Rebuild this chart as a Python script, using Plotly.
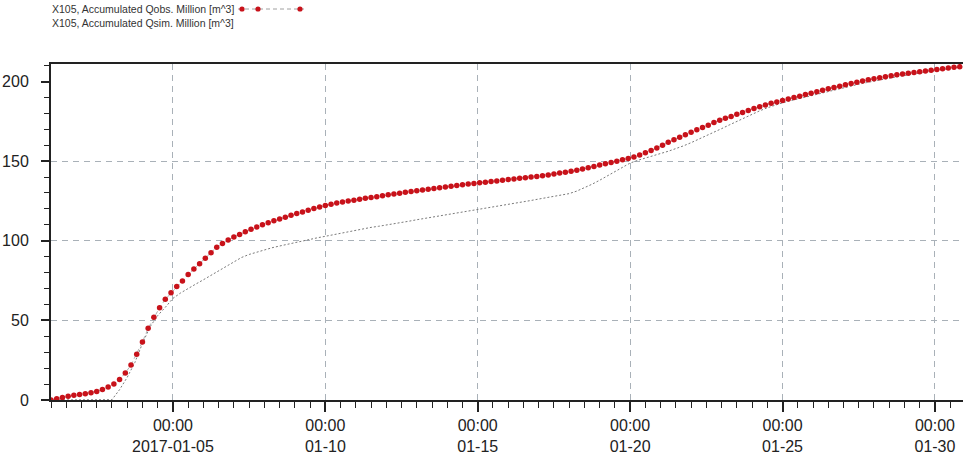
import pandas as pd
import plotly.graph_objects as go

# Observed accumulated discharge (million m^3), 4.5-hour steps from 2017-01-01 00:00
obs_start = "2017-01-01 00:00"
obs_step_hours = 4.5
obs_values = [
    0.0, 0.8, 1.6, 2.4, 3.0, 3.5, 4.0, 4.6, 5.4, 6.6,
    8.2, 10.0, 12.8, 17.0, 22.0, 28.8, 36.5, 45.0, 52.0, 58.0,
    63.2, 67.3, 71.2, 74.8, 78.8, 82.2, 85.6, 89.0, 92.5, 96.0,
    98.2, 100.4, 102.4, 104.0, 105.6, 107.2, 108.6, 110.0, 111.3, 112.5,
    113.7, 114.8, 116.0, 117.1, 118.1, 119.1, 120.2, 121.2, 122.1, 123.0,
    123.7, 124.3, 124.9, 125.5, 126.1, 126.7, 127.2, 127.7, 128.3, 128.9,
    129.4, 129.9, 130.4, 130.9, 131.4, 131.8, 132.3, 132.8, 133.3, 133.7,
    134.2, 134.7, 135.2, 135.6, 136.0, 136.4, 136.8, 137.2, 137.6, 138.0,
    138.4, 138.8, 139.2, 139.6, 140.0, 140.4, 140.8, 141.3, 141.9, 142.5,
    143.0, 143.6, 144.3, 145.0, 145.8, 146.7, 147.6, 148.4, 149.2, 150.0,
    150.8, 151.6, 152.6, 153.8, 155.2, 156.7, 158.2, 160.0, 161.8, 163.5,
    165.0, 166.6, 168.2, 169.7, 171.2, 172.6, 174.2, 175.6, 176.9, 178.1,
    179.4, 180.6, 181.8, 183.0, 184.2, 185.3, 186.3, 187.2, 188.1, 189.0,
    189.9, 190.8, 191.8, 192.7, 193.6, 194.5, 195.4, 196.3, 197.1, 197.9,
    198.8, 199.6, 200.4, 201.1, 201.8, 202.4, 203.0, 203.6, 204.2, 204.7,
    205.2, 205.7, 206.1, 206.6, 207.1, 207.5, 208.0, 208.5, 208.9, 209.3,
]

# Simulated accumulated discharge (million m^3), 6-hour steps from 2017-01-01 00:00
sim_start = "2017-01-01 00:00"
sim_step_hours = 6
sim_values = [
    0.0, 0.0, 0.0, 0.0, 0.0, 0.0, 0.0, 0.0, 0.2, 6.5,
    14.2, 23.5, 35.5, 46.0, 53.0, 58.2, 63.8, 67.2, 70.2, 72.8,
    75.5, 78.3, 81.2, 84.1, 87.0, 89.5, 91.4, 92.9, 94.4, 95.6,
    96.7, 97.8, 98.9, 99.9, 100.9, 101.9, 102.8, 103.8, 104.8, 105.8,
    106.8, 107.6, 108.4, 109.1, 109.8, 110.6, 111.4, 112.3, 113.2, 114.0,
    114.7, 115.4, 116.2, 117.0, 117.7, 118.6, 119.4, 120.2, 121.0, 121.7,
    122.5, 123.4, 124.4, 125.3, 126.2, 127.0, 127.8, 128.7, 129.6, 131.2,
    133.2, 135.5, 138.0, 140.6, 143.4, 146.2, 148.8, 150.5, 151.8, 153.3,
    154.8, 156.2, 157.8, 159.6, 161.6, 163.7, 165.9, 168.1, 170.4, 172.7,
    175.0, 177.3, 179.5, 181.6, 183.5, 185.2, 186.6, 187.9, 189.1, 190.3,
    191.5, 192.7, 193.9, 195.0, 196.1, 197.2, 198.3, 199.3, 200.3, 201.2,
    202.1, 203.0, 203.8, 204.6, 205.4, 206.2, 206.9, 207.6, 208.3, 208.9,
    209.5,
]

obs_names = "X105, Accumulated Qobs. Million [m^3]"
sim_names = "X105, Accumulated Qsim. Million [m^3]"

x_tick_vals = ["2017-01-05", "2017-01-10", "2017-01-15", "2017-01-20", "2017-01-25", "2017-01-30"]
x_tick_text = ["00:00<br>2017-01-05", "00:00<br>01-10", "00:00<br>01-15",
               "00:00<br>01-20", "00:00<br>01-25", "00:00<br>01-30"]
y_tick_vals = [0, 50, 100, 150, 200]
y_grid_vals = [50, 100, 150]

obs_times = pd.date_range(obs_start, periods=len(obs_values), freq=pd.Timedelta(hours=obs_step_hours))
sim_times = pd.date_range(sim_start, periods=len(sim_values), freq=pd.Timedelta(hours=sim_step_hours))

FONT = "Liberation Sans, Arial, sans-serif"
RED = "#c8121a"
GRID = "#a9b1b8"
Y_RANGE = [0, 211]

W, H = 963, 455
ML, MR, MT, MB = 51, 0, 64, 55
PW, PH = W - ML - MR, H - MT - MB


def px_to_paper(px, py):
    return (px - ML) / PW, (H - MB - py) / PH


fig = go.Figure()
fig.add_trace(go.Scatter(
    x=sim_times, y=sim_values, mode="lines", name=sim_names,
    line=dict(color="#7a7a7a", width=1, dash="2px,2px"),
    showlegend=False, hoverinfo="skip",
))
fig.add_trace(go.Scatter(
    x=obs_times, y=obs_values, mode="lines+markers", name=obs_names,
    line=dict(color="#b0b0b0", width=1, dash="4px,3px"),
    marker=dict(color=RED, size=5.5, line=dict(width=0)),
    showlegend=False, hoverinfo="skip",
))

axis_font = dict(family=FONT, size=16, color="#222222")

fig.update_layout(
    width=W, height=H,
    margin=dict(l=ML, r=MR, t=MT, b=MB),
    paper_bgcolor="white", plot_bgcolor="white",
    font=dict(family=FONT, color="#222222"),
    xaxis=dict(
        type="date",
        range=["2017-01-01 00:00", "2017-01-30 22:05"],
        tickmode="array", tickvals=x_tick_vals, ticktext=x_tick_text,
        ticks="outside", ticklen=10, tickwidth=1.5, tickcolor="#222222",
        showline=True, linecolor="#222222", linewidth=2, mirror=True,
        showgrid=True, gridcolor=GRID, gridwidth=1, griddash="6px,5px",
        zeroline=False, tickfont=axis_font, automargin=False,
        minor=dict(dtick=12 * 3600 * 1000, tick0="2017-01-01", ticks="outside",
                   ticklen=6, tickwidth=1, tickcolor="#222222", showgrid=False),
    ),
    yaxis=dict(
        range=Y_RANGE,
        tickmode="array", tickvals=y_tick_vals,
        ticks="outside", ticklen=8, tickwidth=1.5, tickcolor="#222222",
        showline=True, linecolor="#222222", linewidth=2, mirror=False,
        showgrid=False, zeroline=False, tickfont=axis_font,
        ticklabelstandoff=9, automargin=False,
        minor=dict(dtick=10, tick0=0, ticks="outside", ticklen=5, tickwidth=1,
                   tickcolor="#222222", showgrid=False),
    ),
    # grid-only overlay axis: dashed horizontal grid at 50/100/150 only
    yaxis2=dict(
        overlaying="y", range=Y_RANGE, tickmode="array", tickvals=y_grid_vals,
        showticklabels=False, ticks="", showline=False, zeroline=False,
        showgrid=True, gridcolor=GRID, gridwidth=1, griddash="6px,5px",
        automargin=False, layer="below traces",
    ),
)
# invisible trace to activate the grid-only axis
fig.add_trace(go.Scatter(x=[obs_times[0]], y=[obs_values[0]], yaxis="y2", mode="markers",
                         marker=dict(opacity=0), showlegend=False, hoverinfo="skip"))

# Legend rows drawn as text followed by a line sample (as in the source chart)
legend_font = dict(family=FONT, size=10.5, color="#333333")
row1_y, row2_y = 9, 23
for name, py in ((obs_names, row1_y), (sim_names, row2_y)):
    lx, ly = px_to_paper(50, py)
    fig.add_annotation(xref="paper", yref="paper", x=lx, y=ly, xanchor="left",
                       yanchor="middle", showarrow=False, text=name, font=legend_font)

x0, y0 = px_to_paper(238, row1_y)
x1, _ = px_to_paper(304, row1_y)
fig.add_shape(type="line", xref="paper", yref="paper", x0=x0, x1=x1, y0=y0, y1=y0,
              line=dict(color="#a0a0a0", width=1, dash="4px,3px"))
for cx in (242, 258, 300):
    xc, yc = px_to_paper(cx, row1_y)
    dx, dy = 2.6 / PW, 2.6 / PH
    fig.add_shape(type="circle", xref="paper", yref="paper",
                  x0=xc - dx, x1=xc + dx, y0=yc - dy, y1=yc + dy,
                  fillcolor=RED, line=dict(width=0))

fig.write_html("out.html", config={"displayModeBar": False},
               post_script=["document.body.style.margin='0';"])
